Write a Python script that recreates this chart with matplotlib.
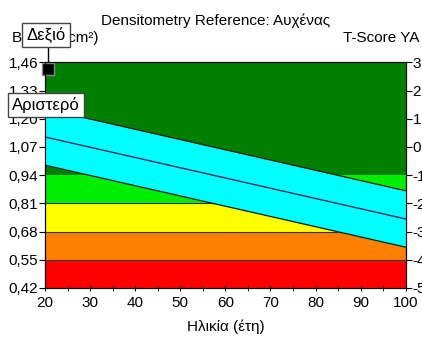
import matplotlib
matplotlib.use("Agg")
import matplotlib.pyplot as plt

plt.rcParams.update({
    "font.family": ["Liberation Sans", "DejaVu Sans"],
    "font.size": 11,
    "axes.unicode_minus": False,
})

# ---- data ----
ages = [20, 100]
ref_mean = [1.116, 0.738]
ref_upper = [1.246, 0.868]
ref_lower = [0.986, 0.608]

band_edges = [0.42, 0.55, 0.68, 0.81, 0.94, 1.46]
band_colors = ["#ff0000", "#ff8000", "#ffff00", "#00ee00", "#007f00"]

y_ticks = [0.42, 0.55, 0.68, 0.81, 0.94, 1.07, 1.20, 1.33, 1.46]
y_tick_labels = ["0,42", "0,55", "0,68", "0,81", "0,94", "1,07", "1,20", "1,33", "1,46"]
x_ticks = [20, 30, 40, 50, 60, 70, 80, 90, 100]
x_minor = [25, 35, 45, 55, 65, 75, 85, 95]
t_ticks = [-5, -4, -3, -2, -1, 0, 1, 2, 3]

patient_age = [20.6]
patient_bmd = [1.43]

# ---- figure ----
fig = plt.figure(figsize=(4.22, 3.44), dpi=100)
ax = fig.add_axes([0.1066, 0.1628, 0.855, 0.656])

for lo, hi, c in zip(band_edges[:-1], band_edges[1:], band_colors):
    ax.axhspan(lo, hi, color=c, lw=0, zorder=1)
for y in band_edges[1:-2]:
    ax.axhline(y, color="#333333", lw=0.8, zorder=2)

ax.fill_between(ages, ref_lower, ref_upper, color="#00ffff", lw=0, zorder=3)
ax.plot(ages, ref_upper, color="#1a1a1a", lw=0.9, zorder=4)
ax.plot(ages, ref_lower, color="#1a1a1a", lw=0.9, zorder=4)
ax.plot(ages, ref_mean, color="#0a2a5a", lw=1.0, zorder=4)

ax.plot(patient_age, patient_bmd, marker="s", ms=9, mfc="black", mec="#888888",
        mew=1, ls="none", zorder=6, clip_on=False)
ax.plot([patient_age[0], patient_age[0]], [patient_bmd[0], 1.56], color="black",
        lw=1, zorder=5, clip_on=False)

ax.set_xlim(20, 100)
ax.set_ylim(0.42, 1.46)
ax.set_xticks(x_ticks)
ax.set_xticks(x_minor, minor=True)
ax.set_yticks(y_ticks)
ax.set_yticklabels(y_tick_labels)
ax.tick_params(axis="x", which="both", direction="inout", length=5, pad=3)
ax.tick_params(axis="y", direction="out", length=4, pad=1)
ax.set_xlabel("Ηλικία (έτη)", labelpad=7)

ax2 = ax.twinx()
ax2.set_ylim(-5, 3)
ax2.set_yticks(t_ticks)
ax2.tick_params(axis="y", direction="out", length=4, pad=1)

fig.text(0.51, 0.94, "Densitometry Reference: Αυχένας", ha="center", va="center")
fig.text(0.028, 0.89, "BMD (g/cm²)", ha="left", va="center")
fig.text(0.813, 0.89, "T-Score YA", ha="left", va="center")

box = dict(boxstyle="square,pad=0.25", fc="white", ec="#444444", lw=1)
fig.text(0.062, 0.898, "Δεξιό", ha="left", va="center", fontsize=12, bbox=box, zorder=10)
fig.text(0.028, 0.695, "Αριστερό", ha="left", va="center", fontsize=12, bbox=box, zorder=10)

fig.savefig("out.png", dpi=100)
